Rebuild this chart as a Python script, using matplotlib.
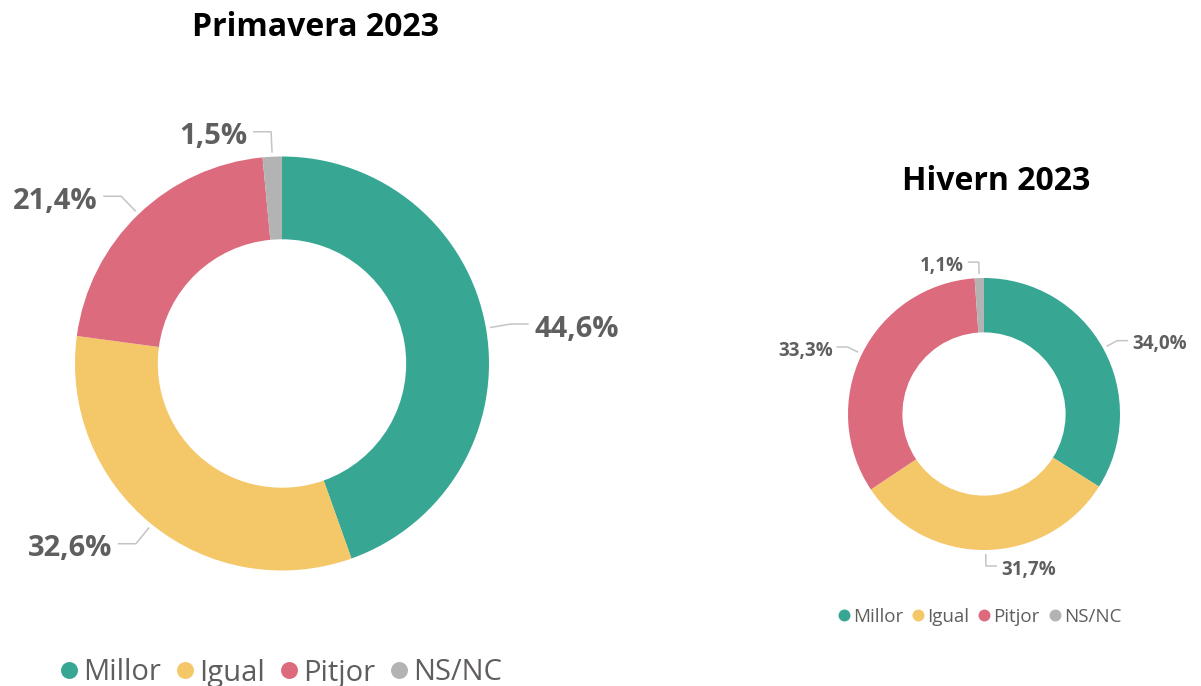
import matplotlib.pyplot as plt
import numpy as np

plt.rcParams['font.family'] = ['Open Sans', 'DejaVu Sans']

categories = ['Millor', 'Igual', 'Pitjor', 'NS/NC']
colors = ['#37A794', '#F4C869', '#DD6B7E', '#B3B3B3']
primavera = [44.6, 32.6, 21.4, 1.5]
hivern = [34.0, 31.7, 33.3, 1.1]

label_color = '#5F5F5F'
line_color = '#C4C4C4'

W, H = 1201, 686
fig = plt.figure(figsize=(W / 100, H / 100), dpi=100)
ax = fig.add_axes([0, 0, 1, 1])


def fmt(v):
    return f'{v:.1f}'.replace('.', ',') + '%'


def donut(values, center, radius, fs, radial, horiz, gap):
    # start at the top and go clockwise (y axis is inverted later)
    wedges, _ = ax.pie(values, colors=colors, center=center, radius=radius,
                       startangle=-90, counterclock=True,
                       wedgeprops=dict(width=radius * 0.4, edgecolor='none'))
    fs_px = fs * 100 / 72
    for w, v in zip(wedges, values):
        mid = np.deg2rad((w.theta1 + w.theta2) / 2)
        c, s = np.cos(mid), np.sin(mid)
        x0 = center[0] + (radius + 4) * c
        y0 = center[1] + (radius + 4) * s
        x1 = x0 + radial * c
        y1 = y0 + radial * s
        side = 1 if c >= 0 else -1
        x2 = x1 + side * horiz
        ax.plot([x0, x1, x2], [y0, y1, y1], color=line_color, lw=1.1,
                solid_capstyle='butt')
        ax.text(x2 + side * gap, y1 + 0.36 * fs_px + 2, fmt(v), fontsize=fs,
                fontweight='bold', color=label_color,
                ha='left' if side > 0 else 'right', va='baseline')


def legend(x, y, fs, ms, text_gap, item_gap):
    renderer = fig.canvas.get_renderer()
    fs_px = fs * 100 / 72
    for cat, col in zip(categories, colors):
        ax.plot([x], [y], 'o', ms=ms, color=col, mec='none')
        t = ax.text(x + text_gap, y + 0.36 * fs_px, cat, fontsize=fs,
                    color='#605E5C', ha='left', va='baseline')
        bb = t.get_window_extent(renderer)
        x = x + text_gap + bb.width + item_gap


donut(primavera, (282, 363.5), 207, 21, 21, 18, 6)
donut(hivern, (984, 414), 136, 13.5, 12, 11, 4)

ax.text(315, 28, 'Primavera 2023', fontsize=23, fontweight='bold',
        color='black', ha='center', va='center')
ax.text(996, 181, 'Hivern 2023', fontsize=23, fontweight='bold',
        color='black', ha='center', va='center')

ax.set_xlim(0, W)
ax.set_ylim(H, 0)
ax.set_aspect('equal')
ax.axis('off')

legend(69, 670, 21, 12.2, 14, 24)
legend(844, 615, 13.5, 8.6, 9, 15)

fig.savefig('out.png', dpi=100, facecolor='white')
